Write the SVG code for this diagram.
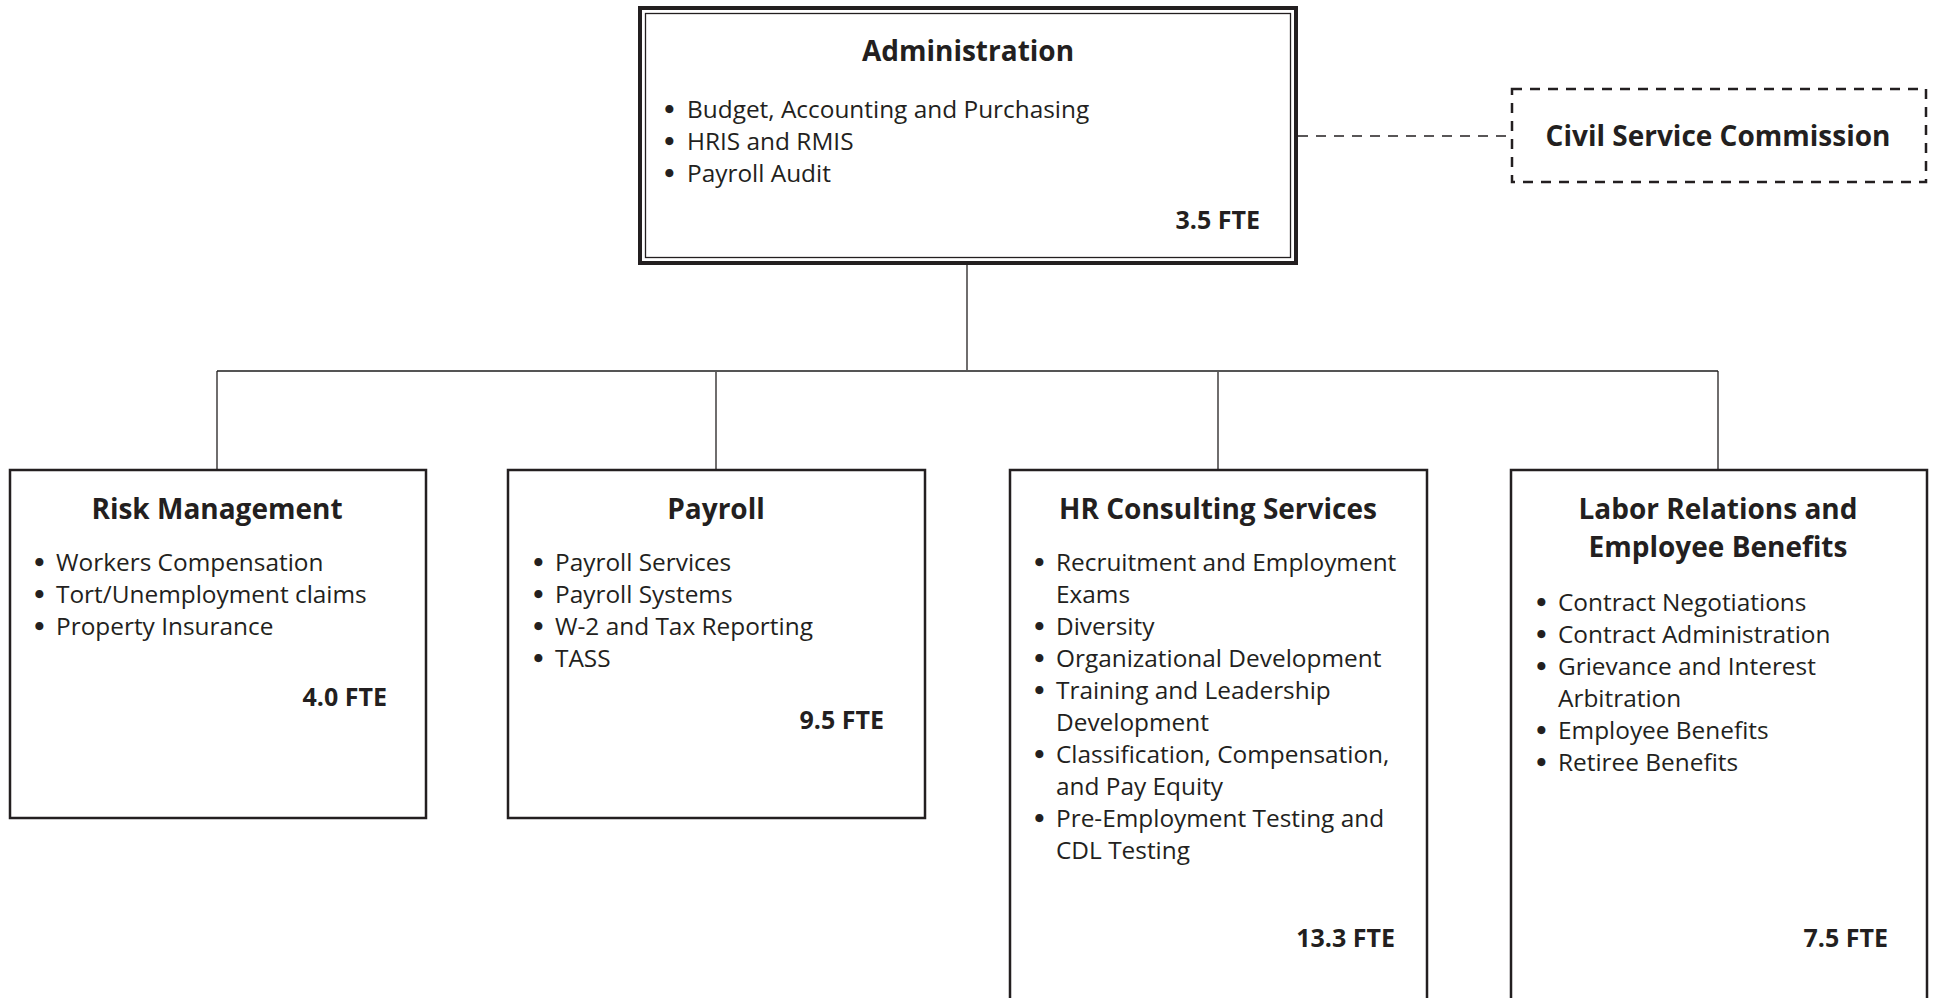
<svg xmlns="http://www.w3.org/2000/svg" width="1937" height="998" viewBox="0 0 1937 998">
<style>
.box{fill:#fff;stroke:#231f20;stroke-width:2.5}
.t{font-family:"Open Sans","Liberation Sans",sans-serif;font-weight:700;font-size:28px;fill:#231f20;text-anchor:middle}
.b{font-family:"Open Sans","Liberation Sans",sans-serif;font-size:24.4px;fill:#231f20}
.d{font-family:"DejaVu Sans",sans-serif;font-weight:700;font-size:23px}
.f{font-family:"Open Sans","Liberation Sans",sans-serif;font-weight:700;font-size:25px;fill:#231f20;text-anchor:end}
.ln{stroke:#231f20;stroke-width:1.3;fill:none}
</style>
<rect width="1937" height="998" fill="#fff"/>
<g id="connectors">
<line class="ln" x1="967" y1="263" x2="967" y2="371"/>
<line x1="217" y1="371" x2="1718" y2="371" stroke="#555" stroke-width="1.8"/>
<line class="ln" x1="217" y1="371" x2="217" y2="469"/>
<line class="ln" x1="716" y1="372" x2="716" y2="469"/>
<line class="ln" x1="1218" y1="372" x2="1218" y2="469"/>
<line class="ln" x1="1718" y1="371" x2="1718" y2="469"/>
<line x1="1298" y1="136" x2="1511" y2="136" stroke="#231f20" stroke-width="1.3" stroke-dasharray="10 8"/>
</g>
<g id="admin">
<rect x="640" y="8" width="656" height="255" fill="#fff" stroke="#231f20" stroke-width="4"/>
<rect x="645.5" y="13.5" width="645" height="244" fill="none" stroke="#231f20" stroke-width="1.3"/>
<text class="t" x="968" y="61">Administration</text>
<text class="b"><tspan class="d" x="662" y="118">•</tspan><tspan x="687" y="118">Budget, Accounting and Purchasing</tspan></text>
<text class="b"><tspan class="d" x="662" y="150">•</tspan><tspan x="687" y="150">HRIS and RMIS</tspan></text>
<text class="b"><tspan class="d" x="662" y="182">•</tspan><tspan x="687" y="182">Payroll Audit</tspan></text>
<text class="f" x="1260" y="229">3.5 FTE</text>
</g>
<g id="civil">
<rect x="1512" y="89" width="414" height="93" fill="#fff" stroke="#231f20" stroke-width="2.5" stroke-dasharray="10 8"/>
<text class="t" x="1718" y="146">Civil Service Commission</text>
</g>
<g id="risk">
<rect class="box" x="10" y="470" width="416" height="348"/>
<text class="t" x="217" y="519">Risk Management</text>
<text class="b"><tspan class="d" x="32" y="571">•</tspan><tspan x="56" y="571">Workers Compensation</tspan></text>
<text class="b"><tspan class="d" x="32" y="603">•</tspan><tspan x="56" y="603">Tort/Unemployment claims</tspan></text>
<text class="b"><tspan class="d" x="32" y="635">•</tspan><tspan x="56" y="635">Property Insurance</tspan></text>
<text class="f" x="387" y="706">4.0 FTE</text>
</g>
<g id="payroll">
<rect class="box" x="508" y="470" width="417" height="348"/>
<text class="t" x="716" y="519">Payroll</text>
<text class="b"><tspan class="d" x="531" y="571">•</tspan><tspan x="555" y="571">Payroll Services</tspan></text>
<text class="b"><tspan class="d" x="531" y="603">•</tspan><tspan x="555" y="603">Payroll Systems</tspan></text>
<text class="b"><tspan class="d" x="531" y="635">•</tspan><tspan x="555" y="635">W-2 and Tax Reporting</tspan></text>
<text class="b"><tspan class="d" x="531" y="667">•</tspan><tspan x="555" y="667">TASS</tspan></text>
<text class="f" x="884" y="729">9.5 FTE</text>
</g>
<g id="hr">
<rect class="box" x="1010" y="470" width="417" height="540"/>
<text class="t" x="1218" y="519">HR Consulting Services</text>
<text class="b"><tspan class="d" x="1032" y="571">•</tspan><tspan x="1056" y="571">Recruitment and Employment</tspan></text>
<text class="b" x="1056" y="603">Exams</text>
<text class="b"><tspan class="d" x="1032" y="635">•</tspan><tspan x="1056" y="635">Diversity</tspan></text>
<text class="b"><tspan class="d" x="1032" y="667">•</tspan><tspan x="1056" y="667">Organizational Development</tspan></text>
<text class="b"><tspan class="d" x="1032" y="699">•</tspan><tspan x="1056" y="699">Training and Leadership</tspan></text>
<text class="b" x="1056" y="731">Development</text>
<text class="b"><tspan class="d" x="1032" y="763">•</tspan><tspan x="1056" y="763">Classification, Compensation,</tspan></text>
<text class="b" x="1056" y="795">and Pay Equity</text>
<text class="b"><tspan class="d" x="1032" y="827">•</tspan><tspan x="1056" y="827">Pre-Employment Testing and</tspan></text>
<text class="b" x="1056" y="859">CDL Testing</text>
<text class="f" x="1395" y="947">13.3 FTE</text>
</g>
<g id="labor">
<rect class="box" x="1511" y="470" width="416" height="540"/>
<text class="t" x="1718" y="519">Labor Relations and</text>
<text class="t" x="1718" y="557">Employee Benefits</text>
<text class="b"><tspan class="d" x="1534" y="611">•</tspan><tspan x="1558" y="611">Contract Negotiations</tspan></text>
<text class="b"><tspan class="d" x="1534" y="643">•</tspan><tspan x="1558" y="643">Contract Administration</tspan></text>
<text class="b"><tspan class="d" x="1534" y="675">•</tspan><tspan x="1558" y="675">Grievance and Interest</tspan></text>
<text class="b" x="1558" y="707">Arbitration</text>
<text class="b"><tspan class="d" x="1534" y="739">•</tspan><tspan x="1558" y="739">Employee Benefits</tspan></text>
<text class="b"><tspan class="d" x="1534" y="771">•</tspan><tspan x="1558" y="771">Retiree Benefits</tspan></text>
<text class="f" x="1888" y="947">7.5 FTE</text>
</g>
</svg>
